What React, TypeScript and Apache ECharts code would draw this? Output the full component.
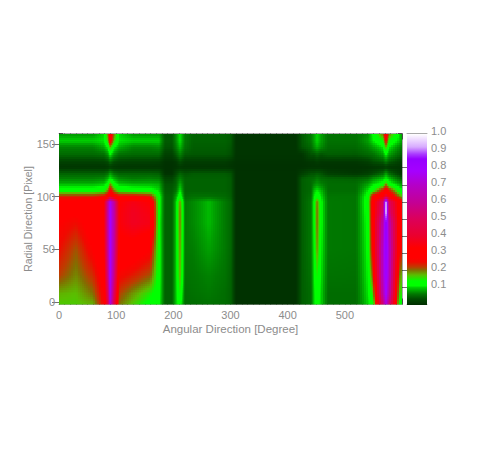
import React, { useEffect, useRef } from "react";
import * as echarts from "echarts";

const angles = [0,30,60,78,85,90,97,105,130,160,175,185,198,205,212,220,235,262,290,300,310,415,425,440,446,452,458,470,520,540,550,567,572,577,595,600];
const radii = [160,153,147,140,133,128,122,117,112,106,100,95,85,75,50,25,8,-2.5];

const r160 = [.075,.075,.075,.1,.2,.31,.2,.1,.075,.075,.075,.035,.035,.07,.105,.06,.045,.045,.045,.04,.008,.008,.04,.06,.08,.1,.08,.055,.055,.07,.115,.2,.31,.2,.105,.08];
const r153 = [.098,.098,.098,.105,.17,.3,.17,.105,.098,.098,.098,.04,.04,.07,.105,.06,.045,.045,.045,.04,.008,.008,.04,.06,.08,.1,.08,.055,.055,.08,.105,.14,.27,.14,.098,.08];
const r147 = [.065,.065,.065,.085,.11,.18,.11,.085,.065,.065,.07,.035,.035,.06,.09,.055,.042,.042,.042,.036,.008,.008,.036,.05,.07,.085,.07,.05,.05,.065,.08,.105,.18,.105,.07,.06];
const r140 = [.05,.05,.05,.055,.075,.11,.075,.055,.05,.05,.05,.02,.02,.04,.065,.04,.038,.038,.038,.032,.008,.008,.008,.035,.035,.045,.035,.042,.04,.05,.055,.08,.11,.08,.05,.045];
const r133 = [.02,.02,.02,.022,.03,.05,.03,.022,.02,.02,.018,.005,.005,.01,.03,.015,.015,.015,.015,.01,.005,.005,.005,.01,.01,.015,.01,.01,.01,.018,.03,.04,.06,.04,.02,.018];
const r128 = [.008,.008,.008,.008,.01,.015,.01,.008,.008,.008,.008,.004,.004,.006,.01,.008,.008,.008,.008,.006,.004,.004,.004,.006,.006,.006,.006,.005,.005,.006,.008,.01,.015,.01,.008,.008];
const r122 = [.045,.045,.045,.045,.055,.08,.055,.045,.045,.045,.042,.005,.005,.025,.045,.035,.04,.04,.04,.035,.005,.005,.018,.035,.035,.04,.035,.018,.01,.018,.028,.05,.08,.05,.018,.01];
const r117 = [.065,.065,.065,.07,.09,.11,.09,.07,.062,.065,.062,.025,.025,.042,.065,.045,.045,.045,.045,.04,.005,.005,.042,.05,.052,.062,.052,.048,.045,.055,.075,.095,.11,.095,.055,.045];
const r112 = [.088,.088,.088,.095,.12,.19,.12,.095,.088,.088,.085,.035,.035,.045,.085,.045,.045,.045,.045,.04,.005,.005,.042,.05,.065,.075,.065,.052,.052,.08,.1,.12,.19,.12,.085,.075];
const r106 = [.125,.125,.125,.135,.19,.27,.19,.135,.125,.12,.1,.04,.04,.055,.105,.045,.045,.045,.045,.04,.005,.005,.042,.05,.09,.105,.09,.052,.052,.105,.135,.24,.29,.24,.125,.115];
const r100 = [.235,.235,.235,.255,.29,.38,.29,.265,.265,.245,.125,.045,.045,.08,.135,.05,.055,.055,.05,.042,.005,.005,.042,.055,.105,.135,.105,.058,.058,.125,.27,.33,.42,.33,.2,.17];
const r95 = [.285,.285,.3,.33,.62,.78,.62,.33,.36,.33,.125,.045,.045,.095,.19,.06,.068,.09,.06,.048,.005,.005,.042,.06,.115,.2,.115,.06,.058,.13,.3,.5,.99,.5,.3,.28];
const r85 = [.28,.28,.3,.33,.64,.8,.64,.34,.38,.35,.125,.045,.045,.095,.2,.06,.068,.09,.06,.048,.005,.005,.042,.06,.115,.205,.115,.06,.058,.125,.3,.55,.99,.55,.3,.29];
const r75 = [.27,.25,.3,.33,.64,.8,.64,.34,.38,.36,.12,.045,.045,.095,.2,.06,.068,.09,.06,.048,.005,.005,.042,.06,.115,.205,.115,.06,.058,.12,.3,.65,.88,.65,.3,.29];
const r50 = [.25,.21,.27,.32,.62,.8,.62,.31,.3,.27,.125,.045,.045,.095,.19,.06,.062,.08,.06,.048,.005,.005,.042,.06,.11,.19,.11,.06,.058,.115,.28,.7,.85,.7,.27,.25];
const r25 = [.22,.19,.23,.29,.58,.8,.58,.26,.24,.21,.125,.045,.045,.095,.18,.056,.058,.065,.056,.045,.005,.005,.042,.056,.105,.15,.105,.056,.055,.11,.22,.7,.82,.7,.2,.17];
const r8 = [.175,.17,.2,.27,.5,.78,.5,.22,.185,.15,.12,.045,.045,.095,.15,.052,.055,.06,.052,.045,.005,.005,.042,.052,.1,.13,.1,.052,.052,.105,.16,.65,.8,.65,.16,.15];
const r0 = [.165,.165,.175,.26,.45,.75,.45,.2,.165,.13,.115,.045,.045,.095,.125,.052,.052,.055,.052,.045,.005,.005,.042,.052,.1,.12,.1,.052,.052,.1,.125,.55,.75,.55,.14,.13];
const rows = [r160,r153,r147,r140,r133,r128,r122,r117,r112,r106,r100,r95,r85,r75,r50,r25,r8,r0];

const stopValues = [0,.03,.06,.08,.1,.11,.14,.17,.2,.22,.25,.27,.33,.4,.5,.6,.7,.78,.85,.88,.92,1];
const stopReds = [0,0,0,0,0,0,0,90,130,190,240,255,255,235,220,195,180,165,150,170,215,255];
const stopGreens = [45,75,120,160,215,255,255,190,110,60,10,0,0,0,0,0,0,0,0,60,170,255];
const stopBlues = [0,0,0,0,0,0,0,0,0,0,0,0,0,45,90,150,200,255,255,255,255,255];

const yMajor = [0,50,100,150];
const yMinor = [0,10,20,30,40,50,60,70,80,90,100,110,120,130,140,150,160];
const barTicks = [.1,.2,.3,.4,.5,.6,.7,.8,.9,1];

function rgbAt(v: number): string {
  let i = 0;
  while (i < stopValues.length - 2 && v > stopValues[i + 1]) i++;
  const t = Math.min(1, Math.max(0, (v - stopValues[i]) / (stopValues[i + 1] - stopValues[i])));
  const m = (a: number[]) => Math.round(a[i] + (a[i + 1] - a[i]) * t);
  return `rgb(${m(stopReds)},${m(stopGreens)},${m(stopBlues)})`;
}

const TEXT = "#8c8c8c";
const FONT = "Liberation Sans";
const LINE = "#a9a9a9";
const TICK = "rgba(0,0,0,0.55)";

export default function App() {
  const ref = useRef<HTMLDivElement>(null);
  useEffect(() => {
    if (!ref.current) return;
    const chart = echarts.init(ref.current, undefined, { renderer: "svg", width: 486, height: 458 });

    const cells: number[][] = [];
    for (let j = 0; j < radii.length - 1; j++) {
      for (let i = 0; i < angles.length - 1; i++) {
        cells.push([
          angles[i], radii[j], angles[i + 1], radii[j + 1],
          rows[j][i], rows[j][i + 1], rows[j + 1][i], rows[j + 1][i + 1],
        ]);
      }
    }
    const segments = stopValues.slice(0, -1).map((v, i) => [0, v, 1, stopValues[i + 1]]);

    const yHidden = { show: false };
    const plotY = (extra: any) => ({
      type: "value", gridIndex: 0, min: -2.5, max: 160, splitLine: yHidden,
      axisLine: { show: true, lineStyle: { color: LINE } }, ...extra,
    });
    const option: any = {
      animation: false,
      backgroundColor: "#ffffff",
      grid: [
        { left: 59, top: 133.5, width: 343, height: 171, show: false },
        { left: 407, top: 133.5, width: 20, height: 171, show: false },
      ],
      xAxis: [
        {
          type: "value", gridIndex: 0, min: 0, max: 600, interval: 100, position: "bottom",
          splitLine: yHidden,
          axisLine: { show: true, onZero: false, lineStyle: { color: LINE } },
          axisTick: { inside: true, length: 6, lineStyle: { color: TICK } },
          minorTick: { show: true, splitNumber: 10, length: 3, lineStyle: { color: TICK } },
          axisLabel: { color: TEXT, fontFamily: FONT, fontSize: 11, margin: 5, showMaxLabel: false },
          name: "Angular Direction [Degree]", nameLocation: "middle", nameGap: 18,
          nameTextStyle: { color: TEXT, fontFamily: FONT, fontSize: 11.5 },
        },
        {
          type: "value", gridIndex: 0, min: 0, max: 600, interval: 100, position: "top",
          splitLine: yHidden,
          axisLine: { show: true, onZero: false, lineStyle: { color: LINE } },
          axisTick: { inside: true, length: 6, lineStyle: { color: TICK } },
          minorTick: { show: true, splitNumber: 10, length: 3, lineStyle: { color: TICK } },
          axisLabel: { show: false },
        },
        { type: "value", gridIndex: 1, min: 0, max: 1, position: "bottom", show: true, splitLine: yHidden,
          axisLine: { show: true, onZero: false, lineStyle: { color: LINE } }, axisTick: { show: false }, axisLabel: { show: false } },
        { type: "value", gridIndex: 1, min: 0, max: 1, position: "top", show: true, splitLine: yHidden,
          axisLine: { show: true, onZero: false, lineStyle: { color: LINE } }, axisTick: { show: false }, axisLabel: { show: false } },
      ],
      yAxis: [
        plotY({
          position: "left",
          axisTick: { inside: true, length: 7, lineStyle: { color: TICK }, customValues: yMajor },
          axisLabel: { color: TEXT, fontFamily: FONT, fontSize: 11, margin: 4, customValues: yMajor },
          name: "Radial Direction [Pixel]", nameLocation: "middle", nameGap: 26, nameRotate: 90, nameMoveOverlap: false,
          nameTextStyle: { color: TEXT, fontFamily: FONT, fontSize: 10.5 },
        }),
        plotY({
          position: "right",
          axisTick: { inside: true, length: 7, lineStyle: { color: TICK }, customValues: yMajor },
          axisLabel: { show: false },
        }),
        plotY({
          position: "left",
          axisTick: { inside: true, length: 4, lineStyle: { color: TICK }, customValues: yMinor },
          axisLabel: { show: false },
        }),
        plotY({
          position: "right",
          axisTick: { inside: true, length: 4, lineStyle: { color: TICK }, customValues: yMinor },
          axisLabel: { show: false },
        }),
        {
          type: "value", gridIndex: 1, min: 0, max: 1, interval: 0.1, position: "right", splitLine: yHidden,
          axisLine: { show: true, lineStyle: { color: LINE } },
          axisTick: { inside: true, length: 20, lineStyle: { color: TICK }, customValues: barTicks.slice(0, 8) },
          axisLabel: {
            color: TEXT, fontFamily: FONT, fontSize: 11, margin: 4, verticalAlign: "bottom", lineHeight: 6,
            customValues: barTicks, formatter: (v: number) => v.toFixed(1),
          },
        },
        {
          type: "value", gridIndex: 1, min: 0, max: 1, position: "left", splitLine: yHidden,
          axisLine: { show: true, lineStyle: { color: LINE } }, axisTick: { show: false }, axisLabel: { show: false },
        },
      ],
      series: [
        {
          type: "custom", xAxisIndex: 0, yAxisIndex: 0, progressive: 0, silent: true, clip: true, z: 1,
          encode: { x: [0, 2], y: [1, 3] }, data: cells,
          renderItem: (_p: any, api: any) => {
            const [ax, ay] = api.coord([api.value(0), api.value(1)]);
            const [bx, by] = api.coord([api.value(2), api.value(3)]);
            const v00 = api.value(4), v10 = api.value(5), v01 = api.value(6), v11 = api.value(7);
            const x0 = Math.round(ax), x1 = Math.round(bx), y0 = Math.round(ay), y1 = Math.round(by);
            const children: any[] = [];
            const stepX = x1 - x0 <= 6 ? 1 : 2;
            const stepY = 2;
            for (let px = x0; px < x1; px += stepX) {
              const w = Math.min(stepX, x1 - px);
              const tx = (px + w / 2 - x0) / Math.max(1, x1 - x0);
              for (let py = y0; py < y1; py += stepY) {
                const h = Math.min(stepY, y1 - py);
                const ty = (py + h / 2 - ay) / (by - ay);
                const top = v00 + (v10 - v00) * tx;
                const bot = v01 + (v11 - v01) * tx;
                children.push({
                  type: "rect",
                  shape: { x: px, y: py, width: w, height: h },
                  style: { fill: rgbAt(top + (bot - top) * ty) },
                });
              }
            }
            return { type: "group", children };
          },
        },
        {
          type: "custom", xAxisIndex: 2, yAxisIndex: 4, progressive: 0, silent: true, clip: false, z: 1,
          encode: { x: [0, 2], y: [1, 3] }, data: segments,
          renderItem: (_p: any, api: any) => {
            const lo = api.value(1), hi = api.value(3);
            const [ax, ay] = api.coord([api.value(0), lo]);
            const [bx, by] = api.coord([api.value(2), hi]);
            const top = Math.round(by), bottom = Math.round(ay);
            return {
              type: "rect",
              shape: { x: ax, y: top, width: bx - ax, height: bottom - top },
              style: { fill: new echarts.graphic.LinearGradient(0, 1, 0, 0, [
                { offset: 0, color: rgbAt(lo) }, { offset: 1, color: rgbAt(hi) },
              ]) },
            };
          },
        },
      ],
    };
    chart.setOption(option);
    return () => chart.dispose();
  }, []);
  return <div ref={ref} style={{ position: "fixed", left: 0, top: 0, width: 486, height: 458 }} />;
}
